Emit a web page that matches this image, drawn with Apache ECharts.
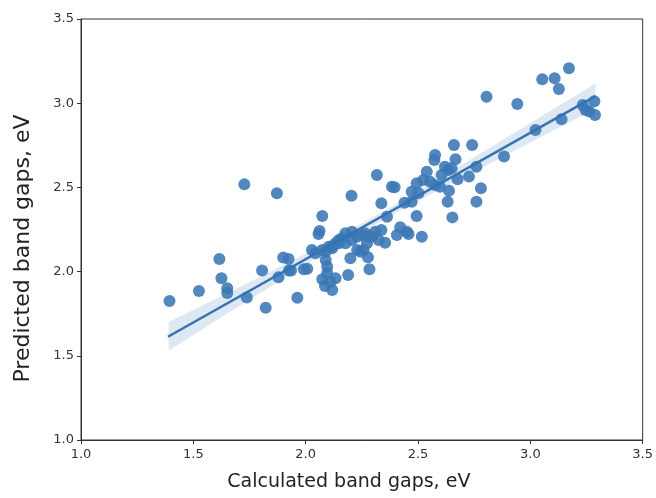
<!DOCTYPE html>
<html>
<head>
<meta charset="utf-8">
<script src="https://cdn.jsdelivr.net/npm/echarts@6/dist/echarts.min.js"></script>
<style>
  html, body { margin: 0; padding: 0; background: #fff; }
  #main { width: 656px; height: 498px; }
</style>
</head>
<body>
<div id="main"></div>
<script>
// calculated (x) and predicted (y) band gaps, eV
var calcGap = [1.394, 1.525, 1.616, 1.625, 1.651, 1.651, 1.727, 1.738, 1.806, 1.822,
  1.872, 1.879, 1.900, 1.924, 1.926, 1.935, 1.963, 1.992, 2.007, 2.028,
  2.044, 2.062, 2.057, 2.074, 2.074, 2.089, 2.103, 2.118, 2.089, 2.096,
  2.096, 2.074, 2.086, 2.111, 2.118, 2.133, 2.148, 2.133, 2.162, 2.177,
  2.206, 2.206, 2.229, 2.229, 2.199, 2.189, 2.204, 2.244, 2.266, 2.277,
  2.284, 2.295, 2.310, 2.317, 2.337, 2.325, 2.337, 2.354, 2.362, 2.384,
  2.396, 2.406, 2.421, 2.450, 2.458, 2.440, 2.472, 2.472, 2.502, 2.494,
  2.524, 2.554, 2.576, 2.598, 2.494, 2.517, 2.539, 2.576, 2.573, 2.605,
  2.620, 2.635, 2.650, 2.660, 2.741, 2.667, 2.676, 2.638, 2.632, 2.653,
  2.727, 2.760, 2.780, 2.760, 2.805, 2.883, 2.942, 3.023, 3.053, 3.108,
  3.127, 3.172, 3.139, 3.233, 3.246, 3.263, 3.285, 3.288, 2.251, 2.280,
  2.177, 2.258, 2.273, 2.148, 2.118];
var predGap = [1.825, 1.885, 2.075, 1.960, 1.901, 1.873, 2.518, 1.846, 2.007, 1.786,
  2.465, 1.966, 2.083, 2.075, 2.007, 2.007, 1.845, 2.014, 2.017, 2.128,
  2.109, 2.241, 2.223, 2.330, 2.128, 2.118, 2.148, 2.138, 2.069, 2.029,
  1.990, 1.954, 1.914, 1.940, 1.891, 1.960, 2.188, 2.168, 2.198, 2.227,
  2.237, 2.188, 2.207, 2.128, 2.079, 1.980, 2.451, 2.118, 2.227, 2.085,
  2.014, 2.207, 2.237, 2.574, 2.406, 2.188, 2.247, 2.172, 2.326, 2.504,
  2.501, 2.217, 2.263, 2.237, 2.223, 2.409, 2.415, 2.474, 2.465, 2.524,
  2.544, 2.534, 2.514, 2.504, 2.330, 2.207, 2.593, 2.692, 2.663, 2.574,
  2.623, 2.603, 2.613, 2.752, 2.752, 2.667, 2.548, 2.480, 2.415, 2.322,
  2.564, 2.623, 2.495, 2.415, 3.039, 2.683, 2.995, 2.841, 3.142, 3.148,
  3.084, 3.207, 2.904, 2.989, 2.960, 2.950, 3.011, 2.930, 2.217, 2.207,
  2.168, 2.128, 2.168, 2.168, 2.150];

// regression line and its confidence band
var fitX = [1.387, 3.290];
var fitY = [1.613, 3.042];
var bandX = [1.39, 1.6, 1.8, 2.0, 2.2, 2.4, 2.6, 2.8, 3.0, 3.29];
var bandLow = [1.530, 1.708, 1.875, 2.040, 2.198, 2.348, 2.491, 2.629, 2.766, 2.967];
var bandHigh = [1.700, 1.838, 1.971, 2.106, 2.248, 2.398, 2.557, 2.719, 2.882, 3.117];

var tickX = ['1.0', '1.5', '2.0', '2.5', '3.0', '3.5'];

var points = calcGap.map(function (x, i) { return [x, predGap[i]]; });
var fitLine = fitX.map(function (x, i) { return [x, fitY[i]]; });

var myChart = echarts.init(document.getElementById('main'));
var font = 'DejaVu Sans';

var option = {
    animation: false,
    backgroundColor: '#fff',
    grid: {
        left: 81, right: 11, top: 19, bottom: 58,
        show: true, borderColor: '#333', borderWidth: 1
    },
    xAxis: {
        type: 'value', min: 1, max: 3.5, interval: 0.5,
        name: 'Calculated band gaps, eV',
        nameLocation: 'middle', nameGap: 33,
        nameTextStyle: { fontFamily: font, fontSize: 19, color: '#222', padding: [0, 26, 0, 0] },
        axisLine: { show: true, onZero: false, lineStyle: { color: '#333', width: 1 } },
        axisTick: { show: true, length: 4, lineStyle: { color: '#333' } },
        axisLabel: {
            fontFamily: font, fontSize: 13, color: '#333', margin: 8,
            formatter: function (v) { return tickX[Math.round((v - 1) / 0.5)]; }
        },
        splitLine: { show: false }
    },
    yAxis: {
        type: 'value', min: 1, max: 3.5, interval: 0.5,
        name: 'Predicted band gaps, eV',
        nameLocation: 'middle', nameGap: 47, nameRotate: 90,
        nameTextStyle: { fontFamily: font, fontSize: 22, color: '#222', padding: [0, 38, 0, 0] },
        axisLine: { show: true, onZero: false, lineStyle: { color: '#333', width: 1 } },
        axisTick: { show: true, length: 4, lineStyle: { color: '#333' } },
        axisLabel: {
            fontFamily: font, fontSize: 13, color: '#333', margin: 7,
            formatter: function (v) { return v.toFixed(1); }
        },
        splitLine: { show: false }
    },
    series: [
        {
            // confidence band
            type: 'custom',
            data: [0],
            silent: true,
            z: 1,
            renderItem: function (params, api) {
                var pts = [];
                for (var i = 0; i < bandX.length; i++) {
                    pts.push(api.coord([bandX[i], bandHigh[i]]));
                }
                for (var j = bandX.length - 1; j >= 0; j--) {
                    pts.push(api.coord([bandX[j], bandLow[j]]));
                }
                return {
                    type: 'polygon',
                    shape: { points: pts },
                    style: { fill: 'rgba(58,120,181,0.17)' }
                };
            }
        },
        {
            type: 'scatter',
            data: points,
            symbolSize: 12,
            z: 2,
            itemStyle: { color: '#3a78b5', opacity: 0.88 }
        },
        {
            type: 'line',
            data: fitLine,
            showSymbol: false,
            z: 3,
            lineStyle: { color: '#3472b0', width: 2.5 }
        }
    ]
};

option && myChart.setOption(option);
</script>
</body>
</html>
